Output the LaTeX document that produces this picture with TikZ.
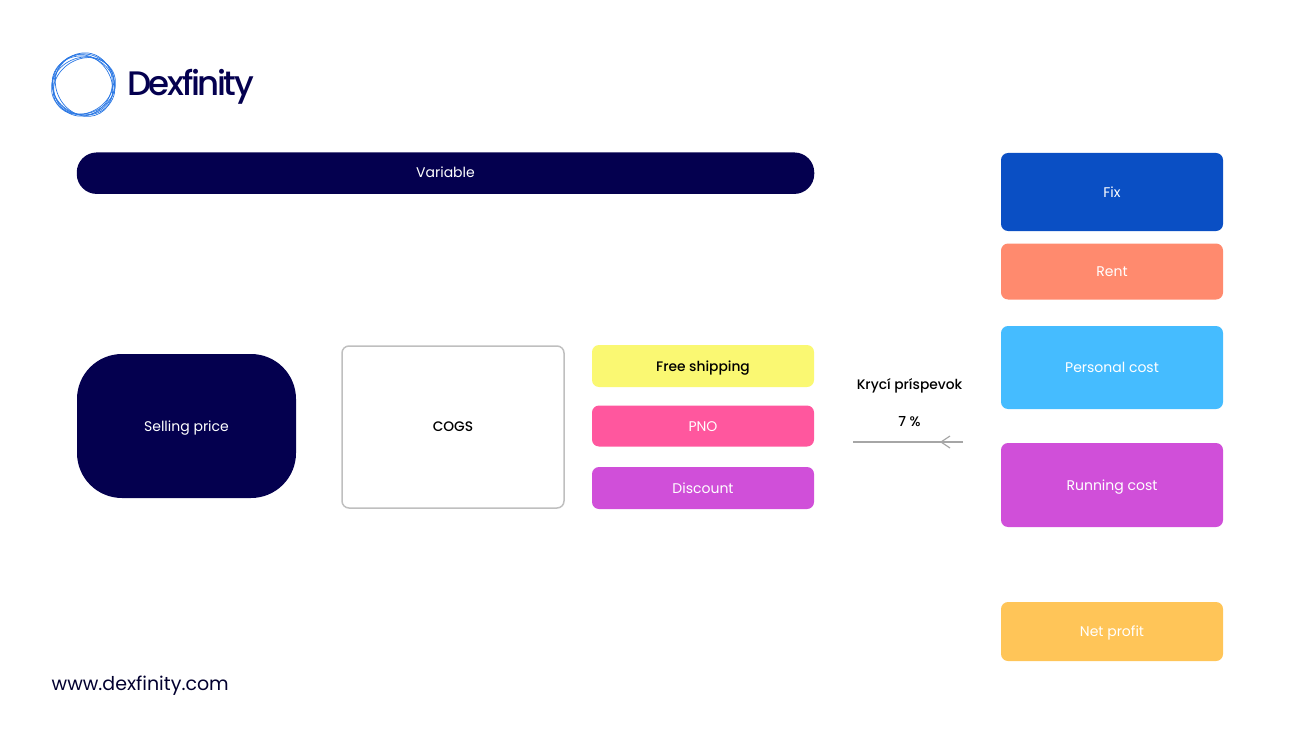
\documentclass[tikz,border=0pt]{standalone}
\usepackage{fontspec}
\setmainfont{Poppins}
\newfontfamily\pmed{Poppins Medium}
\newfontfamily\pbrand[LetterSpace=-7]{Poppins Medium}
\definecolor{navy}{HTML}{04004F}
\definecolor{fixblue}{HTML}{0A4FC4}
\definecolor{rent}{HTML}{FF8A6E}
\definecolor{sky}{HTML}{45BCFF}
\definecolor{violet}{HTML}{D04FD9}
\definecolor{yel}{HTML}{FAF872}
\definecolor{pink}{HTML}{FF579E}
\definecolor{amber}{HTML}{FFC558}
\definecolor{logoblue}{HTML}{2B78E4}
\tikzset{
  x=1pt,y=-1pt,
  block/.style={minimum width=#1,inner sep=0pt,rounded corners=7pt,text height=13.5pt,text depth=3.5pt,font=\fontsize{14}{16}\selectfont,text=white},
  dark/.style={text=black,font=\pmed\fontsize{13.8}{16}\selectfont},
  lbl/.style={inner sep=0pt,text height=13.5pt,text depth=3.5pt,font=\pmed\fontsize{13.8}{16}\selectfont,text=black},
  ring/.style={draw=logoblue,line width=0.7pt}
}
\begin{document}
\begin{tikzpicture}
\useasboundingbox (0,0) rectangle (1300,746);
% logo
\foreach \a/\rx/\ry/\dx/\dy in {0/31/30.5/0/0,20/32.5/28/0/1,-25/32/29/0/1,70/32/29/-0.5/0,120/32/27.5/0.5/1,35/32/26.5/0/1.5}{
  \draw[ring,rotate around={\a:(83.5+\dx,84.5+\dy)}] (83.5+\dx,84.5+\dy) ellipse [x radius=\rx,y radius=\ry];
}
\node[anchor=west,inner sep=0pt,text=navy,font=\pbrand\fontsize{34}{40}\selectfont] (brand) at (127,87) {Dexfinity};
\node[anchor=west,inner sep=0pt,text=navy!60!black,font=\fontsize{19}{24}\selectfont] (url) at (51.5,686) {www.dexfinity.com};
% variable
\node[block=737.5pt,minimum height=41.5pt,rounded corners=20pt,fill=navy,text height=12pt,text depth=4pt] (variable) at (445.5,173.2) {Variable};
% left row
\node[block=219pt,minimum height=144pt,rounded corners=45pt,fill=navy] (price) at (186.5,426) {Selling price};
\node[block=222pt,minimum height=162pt,rounded corners=7pt,draw=black!25,line width=1.5pt,dark,text height=12pt,text depth=4pt] (cogs) at (453,427) {COGS};
\node[block=222pt,minimum height=42pt,fill=yel,dark] (ship) at (703,366) {Free shipping};
\node[block=222pt,minimum height=41pt,fill=pink] (pno) at (703,426) {PNO};
\node[block=222pt,minimum height=42pt,fill=violet] (disc) at (703,488) {Discount};
% right column
\node[block=222pt,minimum height=78pt,fill=fixblue] (fix) at (1112,192) {Fix};
\node[block=222pt,minimum height=56pt,fill=rent] (rentb) at (1112,271.5) {Rent};
\node[block=222pt,minimum height=83pt,fill=sky] (pers) at (1112,367.5) {Personal cost};
\node[block=222pt,minimum height=84pt,fill=violet] (run) at (1112,485) {Running cost};
\node[block=222pt,minimum height=59pt,fill=amber] (net) at (1112,631.5) {Net profit};
% margin label
\node[lbl] (kryci) at (909.5,384.5) {Krycí príspevok};
\node[lbl] (pct) at (909.5,421.5) {7 \%};
\coordinate (from) at (963,442);
\coordinate (to) at (853,442);
\coordinate (tip) at (941,442);
\draw[black!35,line width=1.2pt] (from) -- (to);
\draw[black!35,line width=1.2pt] ([shift={(9,-6)}]tip) -- (tip) -- ([shift={(9,6)}]tip);
\end{tikzpicture}
\end{document}
